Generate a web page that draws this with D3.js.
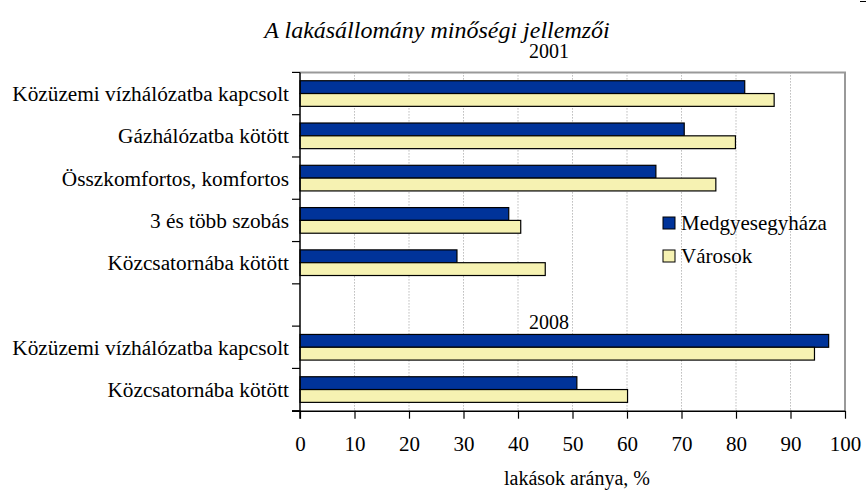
<!DOCTYPE html>
<html>
<head>
<meta charset="utf-8">
<script src="https://cdn.jsdelivr.net/npm/d3@7"></script>
<style>
  html, body { margin: 0; padding: 0; background: #fff; }
  svg { display: block; }
</style>
</head>
<body>
<svg id="chart" width="866" height="491"></svg>
<script>
// ---- data ----
const title = "A lakásállomány minőségi jellemzői";
const yearLabels = ["2001", "2008"];
const categories2001 = ["Közüzemi vízhálózatba kapcsolt", "Gázhálózatba kötött", "Összkomfortos, komfortos", "3 és több szobás", "Közcsatornába kötött"];
const categories2008 = ["Közüzemi vízhálózatba kapcsolt", "Közcsatornába kötött"];
const medgyes2001 = [81.6, 70.5, 65.3, 38.3, 28.8];
const varosok2001 = [87.0, 79.9, 76.3, 40.5, 45.0];
const medgyes2008 = [97.0, 50.8];
const varosok2008 = [94.4, 60.1];
const seriesNames = ["Medgyesegyháza", "Városok"];
const xTicks = [0, 10, 20, 30, 40, 50, 60, 70, 80, 90, 100];
const xTitle = "lakások aránya, %";
const colors = ["#003399", "#F6F2B2"];

(function () {
const FONT = "'Liberation Serif', 'DejaVu Serif', 'Times New Roman', serif";
// rows: 2001 block, empty spacer, 2008 block
const rows = [];
categories2001.forEach((c, i) => rows.push({ key: "a" + i, label: c, values: [medgyes2001[i], varosok2001[i]] }));
rows.push({ key: "gap", label: "", values: null });
categories2008.forEach((c, i) => rows.push({ key: "b" + i, label: c, values: [medgyes2008[i], varosok2008[i]] }));

const svg = d3.select("#chart").attr("font-family", FONT);
const pLeft = 300, pRight = 845, pTop = 72.4, pBottom = 410.7;

const x = d3.scaleLinear().domain([0, 100]).range([pLeft, pRight]);
const y = d3.scaleBand().domain(rows.map(r => r.key)).range([pTop, pBottom]).padding(0);
const ySub = d3.scaleBand().domain([0, 1]).range([0, y.bandwidth()]).paddingInner(0).paddingOuter(0.65);

// gridlines
svg.append("g").selectAll("line").data(xTicks.filter(t => t > 0 && t < 100)).join("line")
  .attr("x1", d => x(d)).attr("x2", d => x(d))
  .attr("y1", pTop).attr("y2", pBottom)
  .attr("stroke", "#999").attr("stroke-width", 1).attr("stroke-dasharray", "1,2");

// frame (top & right, gray)
svg.append("path")
  .attr("d", `M${pLeft},${pTop}H${pRight}V${pBottom}`)
  .attr("fill", "none").attr("stroke", "#999").attr("stroke-width", 2);

// bars
const g = svg.append("g");
rows.filter(r => r.values).forEach(r => {
  g.selectAll(null).data(r.values).join("rect")
    .attr("x", x(0))
    .attr("y", (d, i) => y(r.key) + ySub(i))
    .attr("width", d => x(d) - x(0))
    .attr("height", ySub.bandwidth())
    .attr("fill", (d, i) => colors[i])
    .attr("stroke", "#000").attr("stroke-width", 1.2);
});

// x axis
const xAxis = svg.append("g").attr("transform", `translate(0,${pBottom})`)
  .call(d3.axisBottom(x).tickValues(xTicks).tickSize(8).tickPadding(17).tickFormat(d3.format("d")));
xAxis.attr("font-family", FONT).attr("font-size", 21);
xAxis.select(".domain").attr("d", `M${pLeft - 8},0.5H${pRight}`).attr("stroke", "#000").attr("stroke-width", 1.5);
xAxis.selectAll(".tick line").attr("stroke", "#000").attr("stroke-width", 1.2);
xAxis.selectAll(".tick text").attr("font-size", 21).attr("font-family", FONT).attr("fill", "#000");

// y axis: boundary ticks
const bounds = rows.map(r => y(r.key)).concat([pBottom]);
const yAxisG = svg.append("g");
yAxisG.append("line").attr("x1", pLeft).attr("x2", pLeft).attr("y1", pTop).attr("y2", pBottom + 8)
  .attr("stroke", "#000").attr("stroke-width", 1.5);
yAxisG.selectAll(".yt").data(bounds).join("line").attr("class", "yt")
  .attr("x1", pLeft - 8).attr("x2", pLeft).attr("y1", d => d).attr("y2", d => d)
  .attr("stroke", "#000").attr("stroke-width", 1.2);

// category labels
svg.append("g").selectAll("text").data(rows.filter(r => r.label)).join("text")
  .attr("x", pLeft - 11)
  .attr("y", r => y(r.key) + y.bandwidth() / 2)
  .attr("dy", "0.35em")
  .attr("text-anchor", "end")
  .attr("font-family", FONT)
  .attr("font-size", 21.3)
  .text(r => r.label);

// title and year labels
svg.append("text").attr("x", 437).attr("y", 38).attr("text-anchor", "middle").attr("font-family", FONT)
  .attr("font-size", 24).attr("font-style", "italic").text(title);
svg.append("text").attr("x", 549).attr("y", 58).attr("text-anchor", "middle").attr("font-family", FONT)
  .attr("font-size", 20).text(yearLabels[0]);
svg.append("text").attr("x", 549).attr("y", y("gap") + y.bandwidth() + 3).attr("text-anchor", "middle").attr("font-family", FONT)
  .attr("font-size", 20).text(yearLabels[1]);

// x axis title
svg.append("text").attr("x", 577).attr("y", 485).attr("text-anchor", "middle").attr("font-family", FONT)
  .attr("font-size", 20).text(xTitle);

// legend
const legend = svg.append("g").attr("transform", "translate(663,217)");
seriesNames.forEach((n, i) => {
  const lg = legend.append("g").attr("transform", `translate(0,${i * 33})`);
  lg.append("rect").attr("x", 0).attr("y", 0).attr("width", 12).attr("height", 12)
    .attr("fill", colors[i]).attr("stroke", "#000").attr("stroke-width", 1);
  lg.append("text").attr("x", 18).attr("y", 6).attr("dy", "0.35em").attr("font-family", FONT)
    .attr("font-size", 21).text(n);
});

// small mark in the top-right corner of the page
svg.append("line").attr("x1", 860).attr("x2", 866).attr("y1", 1.5).attr("y2", 1.5)
  .attr("stroke", "#000").attr("stroke-width", 1);
})();
</script>
</body>
</html>
